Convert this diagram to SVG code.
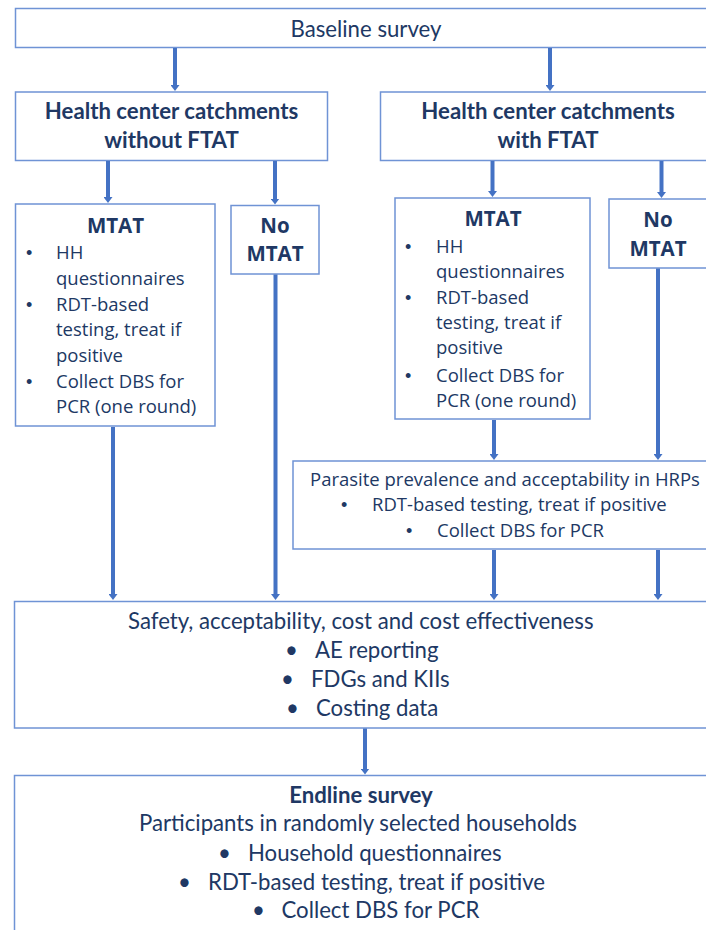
<svg xmlns="http://www.w3.org/2000/svg" width="706" height="930" viewBox="0 0 706 930">
<style>
.box{fill:#fff;stroke:#6f93d5;stroke-width:1.5}
.cal{font-family:Lato,"Open Sans","Liberation Sans",sans-serif;fill:#203864;font-size:22.2px}
.calb{font-family:Lato,"Open Sans","Liberation Sans",sans-serif;fill:#203864;font-size:22.2px;font-weight:bold}
.seg{font-family:"Open Sans","Noto Sans","Liberation Sans",sans-serif;fill:#203864;font-size:18.5px}
.bul{font-family:"Liberation Sans",sans-serif;fill:#203864;font-size:18px}
.segb{font-family:"Open Sans","Noto Sans","Liberation Sans",sans-serif;fill:#203864;font-size:20.5px;font-weight:bold}
.mid{text-anchor:middle}
.conn line{stroke:#4472c4;stroke-width:4;marker-end:url(#ah)}
</style>
<defs>
<marker id="ah" viewBox="0 0 6 9" refX="0.5" refY="4.5" markerWidth="6" markerHeight="9" markerUnits="userSpaceOnUse" orient="auto">
<path d="M0,0 L6,4.5 L0,9 Z" fill="#4472c4"/>
</marker>
</defs>
<rect width="706" height="930" fill="#fff"/>
<g id="baseline">
<rect class="box" x="15.5" y="8.5" width="700" height="39"/>
<text class="cal mid" x="366" y="37">Baseline survey</text>
</g>
<g id="hc-without">
<rect class="box" x="15.5" y="92" width="312" height="68.5"/>
<text class="calb mid" x="171.5" y="119">Health center catchments</text>
<text class="calb mid" x="171.5" y="147.5">without FTAT</text>
</g>
<g id="hc-with">
<rect class="box" x="380.5" y="92" width="340" height="68.5"/>
<text class="calb mid" x="548" y="119">Health center catchments</text>
<text class="calb mid" x="548" y="147.5">with FTAT</text>
</g>
<g id="mtat-left">
<rect class="box" x="15.5" y="204" width="199.5" height="222"/>
<text class="segb mid" x="115.5" y="232.5">MTAT</text>
<text class="bul" x="26" y="259">•</text><text class="seg" x="56" y="259">HH</text>
<text class="seg" x="56" y="284.5">questionnaires</text>
<text class="bul" x="26" y="310.5">•</text><text class="seg" x="56" y="310.5">RDT-based</text>
<text class="seg" x="56" y="336">testing, treat if</text>
<text class="seg" x="56" y="361.5">positive</text>
<text class="bul" x="26" y="388">•</text><text class="seg" x="56" y="388">Collect DBS for</text>
<text class="seg" x="56" y="413">PCR (one round)</text>
</g>
<g id="nomtat-left">
<rect class="box" x="231" y="205.5" width="88" height="68.5"/>
<text class="segb mid" x="275" y="233">No</text>
<text class="segb mid" x="275" y="260.5">MTAT</text>
</g>
<g id="mtat-right">
<rect class="box" x="395" y="198" width="195" height="221"/>
<text class="segb mid" x="493" y="226">MTAT</text>
<text class="bul" x="405" y="253">•</text><text class="seg" x="436" y="253">HH</text>
<text class="seg" x="436" y="278">questionnaires</text>
<text class="bul" x="405" y="304">•</text><text class="seg" x="436" y="304">RDT-based</text>
<text class="seg" x="436" y="329">testing, treat if</text>
<text class="seg" x="436" y="354">positive</text>
<text class="bul" x="405" y="382">•</text><text class="seg" x="436" y="382">Collect DBS for</text>
<text class="seg" x="436" y="407">PCR (one round)</text>
</g>
<g id="nomtat-right">
<rect class="box" x="609" y="199" width="100" height="69"/>
<text class="segb mid" x="658" y="226.5">No</text>
<text class="segb mid" x="658" y="255.5">MTAT</text>
</g>
<g id="parasite">
<rect class="box" x="293" y="461" width="420" height="88"/>
<text class="seg" x="310" y="486">Parasite prevalence and acceptability in HRPs</text>
<text class="bul" x="341" y="511">•</text><text class="seg" x="372" y="511">RDT-based testing, treat if positive</text>
<text class="bul" x="406" y="537">•</text><text class="seg" x="437" y="537">Collect DBS for PCR</text>
</g>
<g id="safety">
<rect class="box" x="14.5" y="601.5" width="700" height="126.5"/>
<text class="cal" x="128" y="629">Safety, acceptability, cost and cost effectiveness</text>
<text class="cal" x="285" y="657.5">•</text><text class="cal" x="315" y="657.5">AE reporting</text>
<text class="cal" x="281" y="686.5">•</text><text class="cal" x="311" y="686.5">FDGs and KIIs</text>
<text class="cal" x="286" y="716">•</text><text class="cal" x="316" y="716">Costing data</text>
</g>
<g id="endline">
<rect class="box" x="14.5" y="775.5" width="700" height="200"/>
<text class="calb mid" x="361" y="803">Endline survey</text>
<text class="cal" x="139" y="831">Participants in randomly selected households</text>
<text class="cal" x="218" y="860.5">•</text><text class="cal" x="248" y="860.5">Household questionnaires</text>
<text class="cal" x="178" y="890">•</text><text class="cal" x="208" y="890">RDT-based testing, treat if positive</text>
<text class="cal" x="252" y="918">•</text><text class="cal" x="281.5" y="918">Collect DBS for PCR</text>
</g>
<g id="connectors" class="conn">
<line x1="175" y1="48" x2="175" y2="85.5"/>
<line x1="550" y1="48" x2="550" y2="85.5"/>
<line x1="108" y1="161" x2="108" y2="197.5"/>
<line x1="275" y1="161" x2="275" y2="199"/>
<line x1="492.5" y1="161" x2="492.5" y2="191.5"/>
<line x1="661.5" y1="161" x2="661.5" y2="192.5"/>
<line x1="113" y1="427" x2="113" y2="594.5"/>
<line x1="275.5" y1="274.5" x2="275.5" y2="594.5"/>
<line x1="494" y1="420" x2="494" y2="454.5"/>
<line x1="658" y1="268.5" x2="658" y2="454.5"/>
<line x1="494" y1="550" x2="494" y2="594.5"/>
<line x1="658" y1="550" x2="658" y2="594.5"/>
<line x1="365" y1="728.5" x2="365" y2="769"/>
</g>
</svg>
